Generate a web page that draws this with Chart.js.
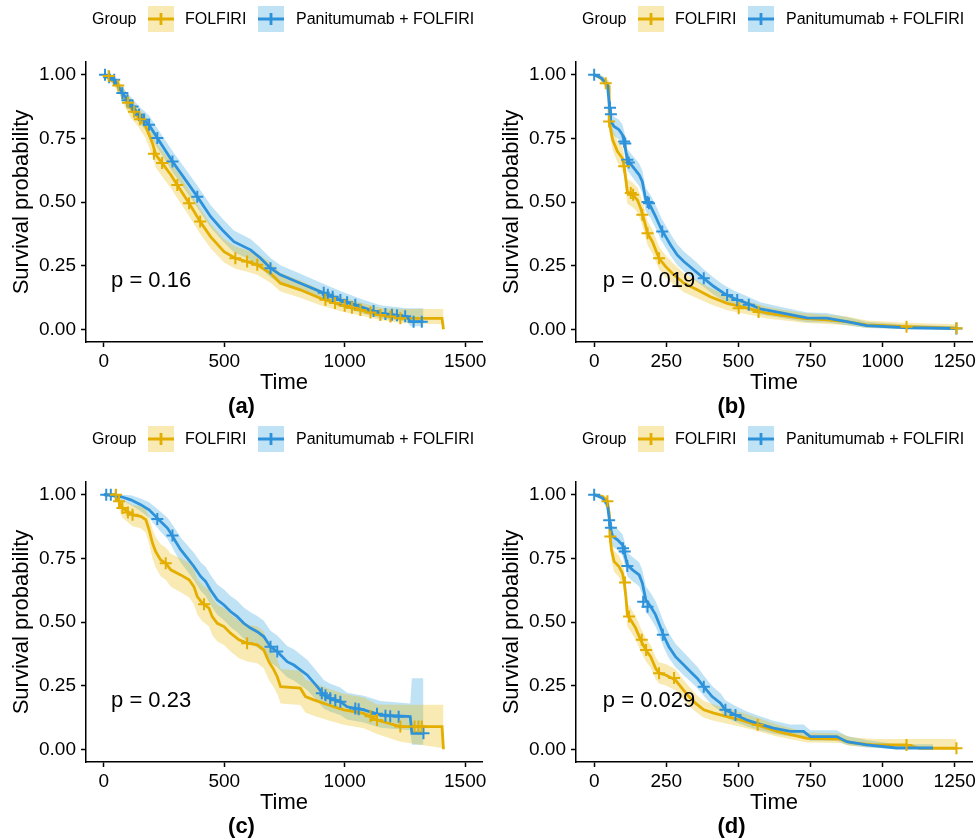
<!DOCTYPE html>
<html>
<head>
<meta charset="utf-8">
<script src="https://cdn.jsdelivr.net/npm/chart.js@4"></script>
<style>
  body { margin: 0; background: #fff; }
  #wrap { position: relative; width: 980px; height: 840px; }
  .panel { position: absolute; width: 490px; height: 420px; }
</style>
</head>
<body>
<div id="wrap">
  <div class="panel" style="left:0;top:0"><canvas id="pa" width="490" height="420"></canvas></div>
  <div class="panel" style="left:490px;top:0"><canvas id="pb" width="490" height="420"></canvas></div>
  <div class="panel" style="left:0;top:420px"><canvas id="pc" width="490" height="420"></canvas></div>
  <div class="panel" style="left:490px;top:420px"><canvas id="pd" width="490" height="420"></canvas></div>
</div>
<script>
// group names and tick labels
const groups = ['FOLFIRI', 'Panitumumab + FOLFIRI'];
const yTicks = [0, 0.25, 0.5, 0.75, 1];
const yTickLabels = ['0.00', '0.25', '0.50', '0.75', '1.00'];
const xTicksLong = [0, 500, 1000, 1500];
const xTicksShort = [0, 250, 500, 750, 1000, 1250];
const pvals = ['p = 0.16', 'p = 0.019', 'p = 0.23', 'p = 0.029'];
const panelTags = ['(a)', '(b)', '(c)', '(d)'];

// ---- panel (a)
const tA_fol = [0, 57, 84, 112, 140, 174, 202, 216, 242, 278, 305, 354, 400, 443, 499, 546, 595, 637, 692, 733, 816, 899, 982, 1065, 1148, 1231, 1404, 1410];
const sA_fol = [1, 0.96, 0.915, 0.869, 0.836, 0.797, 0.731, 0.685, 0.653, 0.607, 0.567, 0.495, 0.423, 0.364, 0.305, 0.279, 0.266, 0.253, 0.22, 0.181, 0.155, 0.122, 0.096, 0.076, 0.056, 0.043, 0.043, 0];
const loA_fol = [1, 0.94, 0.88, 0.83, 0.8, 0.75, 0.68, 0.635, 0.6, 0.555, 0.515, 0.445, 0.375, 0.318, 0.262, 0.238, 0.226, 0.214, 0.183, 0.148, 0.124, 0.094, 0.071, 0.054, 0.036, 0.025, 0.02, 0];
const hiA_fol = [1, 0.98, 0.945, 0.905, 0.872, 0.84, 0.78, 0.735, 0.705, 0.66, 0.62, 0.548, 0.475, 0.415, 0.355, 0.325, 0.31, 0.298, 0.262, 0.222, 0.192, 0.156, 0.128, 0.105, 0.085, 0.08, 0.08, 0.08];
const tA_pan = [0, 43, 77, 119, 153, 188, 222, 285, 339, 388, 443, 492, 540, 609, 650, 692, 733, 816, 899, 982, 1065, 1148, 1259, 1272, 1327];
const sA_pan = [1, 0.98, 0.928, 0.875, 0.836, 0.803, 0.751, 0.659, 0.587, 0.521, 0.443, 0.39, 0.344, 0.312, 0.28, 0.24, 0.214, 0.181, 0.148, 0.115, 0.089, 0.063, 0.05, 0.03, 0.03];
const loA_pan = [1, 0.965, 0.905, 0.845, 0.803, 0.768, 0.713, 0.618, 0.545, 0.478, 0.4, 0.348, 0.303, 0.272, 0.242, 0.204, 0.18, 0.149, 0.118, 0.089, 0.065, 0.042, 0.031, 0.012, 0.012];
const hiA_pan = [1, 0.995, 0.952, 0.905, 0.87, 0.84, 0.79, 0.7, 0.63, 0.565, 0.488, 0.435, 0.388, 0.355, 0.32, 0.28, 0.252, 0.218, 0.184, 0.15, 0.12, 0.094, 0.083, 0.083, 0.083];
const cenA_fol_t = [20, 60, 100, 125, 150, 208, 242, 305, 354, 400, 546, 595, 637, 920, 960, 1000, 1030, 1065, 1107, 1148, 1190, 1231];
const cenA_fol_s = [0.995, 0.958, 0.89, 0.855, 0.825, 0.69, 0.653, 0.567, 0.495, 0.423, 0.279, 0.266, 0.253, 0.116, 0.103, 0.092, 0.085, 0.076, 0.066, 0.056, 0.05, 0.043];
const cenA_pan_t = [5, 22, 43, 77, 98, 119, 146, 167, 188, 222, 285, 388, 692, 913, 930, 950, 982, 1010, 1044, 1120, 1169, 1196, 1217, 1251, 1286, 1320];
const cenA_pan_s = [1, 0.99, 0.98, 0.928, 0.9, 0.875, 0.843, 0.823, 0.803, 0.751, 0.659, 0.521, 0.24, 0.143, 0.136, 0.128, 0.115, 0.106, 0.096, 0.072, 0.06, 0.057, 0.055, 0.051, 0.03, 0.03];

// ---- panel (b)
const tB_fol = [0, 23, 40, 52, 52, 64, 81, 98, 104, 110, 115, 133, 150, 161, 173, 185, 202, 213, 225, 248, 271, 311, 357, 403, 461, 530, 599, 645, 726, 807, 876, 945, 1083, 1256];
const sB_fol = [1, 0.987, 0.967, 0.954, 0.816, 0.744, 0.698, 0.672, 0.64, 0.587, 0.541, 0.528, 0.508, 0.476, 0.43, 0.377, 0.344, 0.312, 0.279, 0.246, 0.22, 0.181, 0.155, 0.128, 0.102, 0.083, 0.063, 0.056, 0.043, 0.037, 0.03, 0.017, 0.01, 0.004];
const loB_fol = [1, 0.975, 0.95, 0.935, 0.78, 0.705, 0.655, 0.628, 0.595, 0.54, 0.493, 0.48, 0.46, 0.428, 0.383, 0.33, 0.298, 0.267, 0.236, 0.205, 0.181, 0.145, 0.122, 0.098, 0.075, 0.059, 0.042, 0.036, 0.026, 0.021, 0.016, 0.006, 0.002, 0];
const hiB_fol = [1, 0.998, 0.985, 0.975, 0.855, 0.785, 0.742, 0.717, 0.686, 0.635, 0.59, 0.577, 0.557, 0.525, 0.478, 0.425, 0.392, 0.36, 0.325, 0.29, 0.262, 0.22, 0.191, 0.162, 0.132, 0.11, 0.088, 0.079, 0.064, 0.057, 0.05, 0.034, 0.026, 0.02];
const tB_pan = [0, 25, 46, 52, 58, 69, 86, 98, 104, 115, 133, 156, 167, 179, 196, 213, 231, 248, 265, 288, 311, 346, 380, 415, 449, 484, 530, 576, 645, 738, 807, 876, 945, 1083, 1256];
const sB_pan = [1, 0.987, 0.96, 0.889, 0.816, 0.797, 0.784, 0.764, 0.738, 0.666, 0.64, 0.607, 0.58, 0.508, 0.482, 0.443, 0.397, 0.364, 0.331, 0.292, 0.266, 0.233, 0.2, 0.168, 0.142, 0.122, 0.102, 0.08, 0.065, 0.045, 0.044, 0.03, 0.014, 0.006, 0.003];
const loB_pan = [1, 0.975, 0.94, 0.86, 0.78, 0.76, 0.745, 0.725, 0.698, 0.624, 0.597, 0.563, 0.536, 0.463, 0.437, 0.398, 0.352, 0.32, 0.289, 0.252, 0.228, 0.196, 0.166, 0.136, 0.113, 0.095, 0.077, 0.058, 0.045, 0.028, 0.027, 0.016, 0.005, 0.001, 0];
const hiB_pan = [1, 0.998, 0.98, 0.918, 0.852, 0.835, 0.823, 0.804, 0.778, 0.708, 0.683, 0.651, 0.624, 0.553, 0.527, 0.488, 0.442, 0.408, 0.374, 0.334, 0.306, 0.272, 0.236, 0.202, 0.174, 0.152, 0.13, 0.106, 0.088, 0.066, 0.064, 0.048, 0.03, 0.018, 0.012];
const cenB_fol_t = [40, 52, 104, 127, 135, 167, 185, 225, 501, 570, 1083, 1256];
const cenB_fol_s = [0.967, 0.816, 0.64, 0.535, 0.528, 0.45, 0.377, 0.279, 0.083, 0.068, 0.01, 0.004];
const cenB_pan_t = [0, 55, 58, 104, 108, 115, 120, 185, 190, 236, 380, 461, 496, 536, 1256];
const cenB_pan_s = [1, 0.87, 0.845, 0.738, 0.73, 0.666, 0.655, 0.5, 0.495, 0.384, 0.2, 0.135, 0.115, 0.096, 0.003];

// ---- panel (c)
const tC_fol = [0, 50, 63, 77, 98, 119, 153, 174, 188, 202, 215, 236, 257, 278, 319, 354, 374, 388, 409, 437, 450, 471, 499, 526, 561, 595, 637, 664, 685, 706, 720, 734, 816, 837, 872, 930, 996, 1079, 1134, 1231, 1404, 1410];
const sC_fol = [1, 1, 0.974, 0.948, 0.934, 0.921, 0.915, 0.902, 0.862, 0.81, 0.777, 0.744, 0.731, 0.705, 0.685, 0.666, 0.639, 0.6, 0.574, 0.554, 0.521, 0.495, 0.482, 0.456, 0.43, 0.417, 0.41, 0.39, 0.344, 0.312, 0.285, 0.246, 0.24, 0.207, 0.194, 0.175, 0.155, 0.141, 0.115, 0.089, 0.089, 0];
const loC_fol = [1, 1, 0.945, 0.91, 0.893, 0.876, 0.868, 0.852, 0.807, 0.75, 0.715, 0.68, 0.666, 0.638, 0.617, 0.597, 0.569, 0.529, 0.503, 0.482, 0.449, 0.423, 0.41, 0.384, 0.358, 0.345, 0.338, 0.318, 0.273, 0.243, 0.217, 0.18, 0.174, 0.144, 0.132, 0.114, 0.096, 0.083, 0.06, 0.03, 0.005, 0.005];
const hiC_fol = [1, 1, 0.995, 0.98, 0.97, 0.96, 0.955, 0.945, 0.91, 0.865, 0.835, 0.805, 0.793, 0.768, 0.75, 0.732, 0.707, 0.67, 0.645, 0.626, 0.594, 0.568, 0.555, 0.53, 0.503, 0.49, 0.483, 0.463, 0.416, 0.384, 0.355, 0.315, 0.308, 0.274, 0.26, 0.24, 0.218, 0.203, 0.176, 0.175, 0.175, 0.175];
const tC_pan = [0, 70, 112, 153, 188, 215, 236, 264, 278, 298, 319, 347, 374, 402, 423, 443, 471, 499, 526, 554, 581, 609, 637, 664, 692, 720, 733, 761, 789, 844, 886, 913, 940, 982, 1010, 1079, 1148, 1272, 1279, 1327];
const sC_pan = [1, 0.993, 0.98, 0.961, 0.941, 0.915, 0.895, 0.869, 0.849, 0.816, 0.784, 0.751, 0.718, 0.679, 0.659, 0.626, 0.587, 0.567, 0.541, 0.521, 0.495, 0.476, 0.462, 0.443, 0.403, 0.384, 0.371, 0.344, 0.331, 0.292, 0.246, 0.214, 0.2, 0.187, 0.167, 0.155, 0.135, 0.128, 0.063, 0.063];
const loC_pan = [1, 0.98, 0.96, 0.935, 0.91, 0.878, 0.855, 0.826, 0.804, 0.769, 0.734, 0.699, 0.664, 0.623, 0.602, 0.568, 0.528, 0.507, 0.48, 0.46, 0.434, 0.414, 0.4, 0.381, 0.341, 0.322, 0.309, 0.283, 0.27, 0.233, 0.19, 0.16, 0.147, 0.135, 0.117, 0.105, 0.085, 0.075, 0.018, 0.018];
const hiC_pan = [1, 1, 0.998, 0.985, 0.97, 0.95, 0.933, 0.91, 0.892, 0.863, 0.832, 0.802, 0.772, 0.735, 0.716, 0.685, 0.647, 0.628, 0.602, 0.583, 0.557, 0.538, 0.524, 0.505, 0.466, 0.447, 0.434, 0.406, 0.393, 0.352, 0.305, 0.272, 0.257, 0.243, 0.222, 0.21, 0.19, 0.18, 0.279, 0.279];
const cenC_fol_t = [50, 63, 77, 100, 119, 257, 416, 595, 1107, 1134, 1231, 1290, 1306, 1320];
const cenC_fol_s = [1, 0.974, 0.948, 0.93, 0.921, 0.731, 0.57, 0.417, 0.13, 0.115, 0.089, 0.089, 0.089, 0.089];
const cenC_pan_t = [10, 29, 50, 222, 285, 692, 720, 905, 920, 940, 961, 982, 1044, 1058, 1134, 1169, 1189, 1224, 1327];
const cenC_pan_s = [1, 1, 0.997, 0.905, 0.84, 0.403, 0.384, 0.22, 0.212, 0.2, 0.193, 0.187, 0.16, 0.157, 0.14, 0.132, 0.13, 0.128, 0.063];

// ---- panel (d)
const tD_fol = [0, 29, 46, 52, 55, 60, 69, 86, 98, 104, 110, 115, 127, 144, 161, 179, 196, 213, 225, 248, 282, 300, 323, 351, 380, 415, 461, 507, 565, 634, 738, 853, 887, 968, 1083, 1129, 1256];
const sD_fol = [1, 0.993, 0.974, 0.928, 0.836, 0.784, 0.738, 0.718, 0.692, 0.659, 0.6, 0.528, 0.508, 0.476, 0.43, 0.39, 0.364, 0.318, 0.299, 0.292, 0.272, 0.246, 0.214, 0.181, 0.155, 0.142, 0.128, 0.115, 0.096, 0.07, 0.043, 0.04, 0.026, 0.017, 0.017, 0.004, 0.004];
const loD_fol = [1, 0.98, 0.957, 0.9, 0.8, 0.745, 0.697, 0.676, 0.649, 0.615, 0.555, 0.482, 0.462, 0.43, 0.385, 0.346, 0.32, 0.276, 0.258, 0.251, 0.232, 0.208, 0.178, 0.148, 0.124, 0.112, 0.1, 0.088, 0.072, 0.05, 0.027, 0.025, 0.014, 0.007, 0.007, 0, 0];
const hiD_fol = [1, 1, 0.99, 0.955, 0.872, 0.823, 0.78, 0.76, 0.735, 0.703, 0.645, 0.575, 0.555, 0.523, 0.478, 0.436, 0.41, 0.362, 0.342, 0.335, 0.314, 0.287, 0.254, 0.218, 0.19, 0.176, 0.16, 0.146, 0.125, 0.097, 0.066, 0.062, 0.048, 0.04, 0.04, 0.04, 0.04];
const tD_pan = [0, 29, 46, 52, 58, 64, 81, 98, 104, 115, 133, 156, 167, 179, 196, 213, 231, 242, 259, 282, 311, 334, 357, 380, 409, 438, 455, 490, 530, 565, 622, 680, 726, 749, 841, 876, 945, 1048, 1175];
const sD_pan = [1, 0.987, 0.961, 0.908, 0.862, 0.836, 0.823, 0.803, 0.777, 0.725, 0.705, 0.685, 0.653, 0.587, 0.561, 0.528, 0.476, 0.443, 0.403, 0.364, 0.331, 0.305, 0.279, 0.246, 0.207, 0.181, 0.155, 0.135, 0.115, 0.102, 0.083, 0.07, 0.07, 0.05, 0.05, 0.03, 0.017, 0.005, 0.005];
const loD_pan = [1, 0.975, 0.94, 0.878, 0.825, 0.797, 0.783, 0.762, 0.735, 0.68, 0.66, 0.64, 0.607, 0.54, 0.514, 0.481, 0.43, 0.398, 0.359, 0.322, 0.29, 0.266, 0.241, 0.21, 0.173, 0.149, 0.125, 0.107, 0.089, 0.078, 0.061, 0.05, 0.05, 0.033, 0.033, 0.017, 0.007, 0.001, 0.001];
const hiD_pan = [1, 0.998, 0.982, 0.94, 0.9, 0.877, 0.865, 0.846, 0.822, 0.773, 0.755, 0.735, 0.704, 0.64, 0.614, 0.582, 0.53, 0.497, 0.456, 0.415, 0.38, 0.353, 0.325, 0.29, 0.249, 0.22, 0.193, 0.17, 0.148, 0.134, 0.112, 0.097, 0.097, 0.075, 0.075, 0.052, 0.036, 0.02, 0.02];
const cenD_fol_t = [46, 56, 107, 121, 165, 180, 225, 277, 567, 1083, 1256];
const cenD_fol_s = [0.974, 0.836, 0.655, 0.522, 0.43, 0.39, 0.299, 0.28, 0.096, 0.017, 0.004];
const cenD_pan_t = [0, 52, 58, 100, 106, 115, 170, 185, 238, 380, 455, 490];
const cenD_pan_s = [1, 0.9, 0.87, 0.79, 0.777, 0.72, 0.58, 0.56, 0.45, 0.246, 0.155, 0.135];

const colFol = '#E4AE00';
const colPan = '#2E92DA';
const bandFol = 'rgba(231,184,0,0.3)';
const bandPan = 'rgba(46,159,223,0.3)';

Chart.defaults.font.family = "'Liberation Sans', Arial, sans-serif";
Chart.defaults.color = '#000';

function pts(xs, ys) {
  return xs.map((x, i) => ({ x: x, y: ys[i] }));
}

// legend drawn across the top of each panel, like the ggplot guide
const groupLegend = {
  id: 'groupLegend',
  afterDraw(chart) {
    const ctx = chart.ctx;
    ctx.save();
    ctx.font = "16px 'Liberation Sans', Arial, sans-serif";
    ctx.fillStyle = '#000';
    ctx.textBaseline = 'middle';
    ctx.fillText('Group', 92, 20);
    const keys = [
      { x: 148, band: bandFol, col: colFol, label: groups[0], tx: 185 },
      { x: 258, band: bandPan, col: colPan, label: groups[1], tx: 296 }
    ];
    keys.forEach(k => {
      ctx.fillStyle = k.band;
      ctx.fillRect(k.x, 6, 26, 26);
      ctx.strokeStyle = k.col;
      ctx.lineWidth = 2.8;
      ctx.beginPath();
      ctx.moveTo(k.x, 19); ctx.lineTo(k.x + 26, 19);
      ctx.moveTo(k.x + 13, 13); ctx.lineTo(k.x + 13, 25);
      ctx.stroke();
      ctx.fillStyle = '#000';
      ctx.fillText(k.label, k.tx, 20);
    });
    ctx.restore();
  }
};

const pvalLabel = {
  id: 'pvalLabel',
  afterDatasetsDraw(chart, args, opts) {
    const ctx = chart.ctx;
    const x = chart.scales.x.getPixelForValue(30);
    const y = chart.scales.y.getPixelForValue(0.19);
    ctx.save();
    ctx.font = "22px 'Liberation Sans', Arial, sans-serif";
    ctx.fillStyle = '#000';
    ctx.textAlign = 'left';
    ctx.textBaseline = 'middle';
    ctx.fillText(opts.text, x, y);
    ctx.restore();
  }
};

function makePanel(id, d) {
  const datasets = [
    { data: pts(d.tF, d.loF), borderWidth: 0, pointRadius: 0, fill: false, order: 3 },
    { data: pts(d.tF, d.hiF), borderWidth: 0, pointRadius: 0, fill: '-1', backgroundColor: bandFol, order: 3 },
    { data: pts(d.tP, d.loP), borderWidth: 0, pointRadius: 0, fill: false, order: 3 },
    { data: pts(d.tP, d.hiP), borderWidth: 0, pointRadius: 0, fill: '-1', backgroundColor: bandPan, order: 3 },
    { label: groups[0], data: pts(d.tF, d.sF), borderColor: colFol, borderWidth: 2.8, pointRadius: 0, fill: false, order: 2 },
    { label: groups[1], data: pts(d.tP, d.sP), borderColor: colPan, borderWidth: 2.8, pointRadius: 0, fill: false, order: 1 },
    { type: 'scatter', data: pts(d.cFt, d.cFs), pointStyle: 'cross', pointRadius: 6, borderColor: colFol, borderWidth: 2, order: 0 },
    { type: 'scatter', data: pts(d.cPt, d.cPs), pointStyle: 'cross', pointRadius: 6, borderColor: colPan, borderWidth: 2, order: 0 }
  ];
  new Chart(document.getElementById(id), {
    type: 'line',
    data: { datasets: datasets },
    options: {
      responsive: false,
      animation: false,
      devicePixelRatio: 1,
      layout: { padding: { top: 62, right: 7, left: 0, bottom: 0 } },
      elements: { line: { tension: 0 } },
      plugins: {
        legend: { display: false },
        tooltip: { enabled: false },
        title: {
          display: true, position: 'bottom', text: d.tag, color: '#000',
          font: { size: 22, weight: 'bold', lineHeight: 1 },
          padding: { top: 0, bottom: 2 }
        },
        pvalLabel: { text: d.p }
      },
      scales: {
        x: {
          type: 'linear', min: d.xmin, max: d.xmax,
          afterBuildTicks: s => { s.ticks = d.xt.map(v => ({ value: v })); },
          afterFit: s => { s.height = 54; },
          ticks: { font: { size: 19 }, color: '#000', padding: 3, maxRotation: 0, callback: v => String(v) },
          grid: { drawOnChartArea: false, drawTicks: true, tickLength: 5, tickColor: '#000', tickWidth: 1.5 },
          border: { color: '#000', width: 1.5 },
          title: { display: true, text: 'Time', font: { size: 22 }, color: '#000', padding: { top: 0, bottom: 0 } }
        },
        y: {
          type: 'linear', min: -0.05, max: 1.05,
          afterBuildTicks: s => { s.ticks = yTicks.map(v => ({ value: v })); },
          afterFit: s => { s.width = 86; },
          ticks: { font: { size: 19 }, color: '#000', padding: 5, callback: (v, i) => yTickLabels[i] },
          grid: { drawOnChartArea: false, drawTicks: true, tickLength: 5, tickColor: '#000', tickWidth: 1.5 },
          border: { color: '#000', width: 1.5 },
          title: { display: true, text: 'Survival probability', font: { size: 22 }, color: '#000', padding: { top: 9, bottom: 0 } }
        }
      }
    },
    plugins: [groupLegend, pvalLabel]
  });
}

makePanel('pa', { tF: tA_fol, sF: sA_fol, loF: loA_fol, hiF: hiA_fol, tP: tA_pan, sP: sA_pan, loP: loA_pan, hiP: hiA_pan,
  cFt: cenA_fol_t, cFs: cenA_fol_s, cPt: cenA_pan_t, cPs: cenA_pan_s, xt: xTicksLong, xmin: -74, xmax: 1570, p: pvals[0], tag: panelTags[0] });
makePanel('pb', { tF: tB_fol, sF: sB_fol, loF: loB_fol, hiF: hiB_fol, tP: tB_pan, sP: sB_pan, loP: loB_pan, hiP: hiB_pan,
  cFt: cenB_fol_t, cFs: cenB_fol_s, cPt: cenB_pan_t, cPs: cenB_pan_s, xt: xTicksShort, xmin: -63, xmax: 1310, p: pvals[1], tag: panelTags[1] });
makePanel('pc', { tF: tC_fol, sF: sC_fol, loF: loC_fol, hiF: hiC_fol, tP: tC_pan, sP: sC_pan, loP: loC_pan, hiP: hiC_pan,
  cFt: cenC_fol_t, cFs: cenC_fol_s, cPt: cenC_pan_t, cPs: cenC_pan_s, xt: xTicksLong, xmin: -74, xmax: 1570, p: pvals[2], tag: panelTags[2] });
makePanel('pd', { tF: tD_fol, sF: sD_fol, loF: loD_fol, hiF: hiD_fol, tP: tD_pan, sP: sD_pan, loP: loD_pan, hiP: hiD_pan,
  cFt: cenD_fol_t, cFs: cenD_fol_s, cPt: cenD_pan_t, cPs: cenD_pan_s, xt: xTicksShort, xmin: -63, xmax: 1310, p: pvals[3], tag: panelTags[3] });
</script>
</body>
</html>
